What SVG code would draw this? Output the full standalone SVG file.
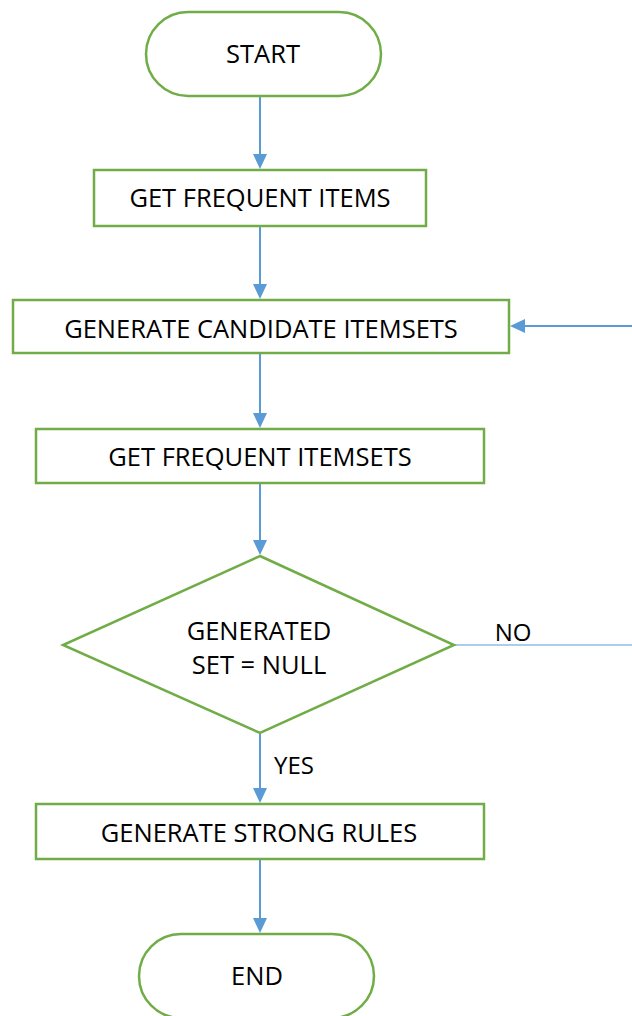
<svg xmlns="http://www.w3.org/2000/svg" width="632" height="1016" viewBox="0 0 632 1016">
<style>
.n{fill:#fff;stroke:#70AD47;stroke-width:2.5}
.t{font-family:"Open Sans","Liberation Sans",sans-serif;font-size:25.5px;fill:#000;text-anchor:middle}
.l{font-family:"Open Sans","Liberation Sans",sans-serif;font-size:24px;fill:#000;text-anchor:middle}
.c{stroke:#5B9BD5;stroke-width:2;fill:none}
.a{fill:#5B9BD5}
</style>
<g id="connectors">
<line class="c" x1="260" y1="97" x2="260" y2="158"/>
<path class="a" d="M253,154 L267,154 L260,169 z"/>
<line class="c" x1="260" y1="227" x2="260" y2="288"/>
<path class="a" d="M253,284 L267,284 L260,299 z"/>
<line class="c" x1="632" y1="326" x2="522" y2="326"/>
<path class="a" d="M525,319 L525,333 L510,326 z"/>
<line class="c" x1="260" y1="354" x2="260" y2="417"/>
<path class="a" d="M253,413 L267,413 L260,428 z"/>
<line class="c" x1="260" y1="484" x2="260" y2="544"/>
<path class="a" d="M253,540 L267,540 L260,555 z"/>
<line stroke="#5B9BD5" stroke-width="1.2" x1="454" y1="645" x2="632" y2="645"/>
<line class="c" x1="260" y1="734" x2="260" y2="792"/>
<path class="a" d="M253,788 L267,788 L260,803 z"/>
<line class="c" x1="260" y1="860" x2="260" y2="922"/>
<path class="a" d="M253,918 L267,918 L260,933 z"/>
<text class="l" x="513" y="641">NO</text>
<text class="l" x="294" y="774">YES</text>
</g>
<g id="start">
<rect class="n" x="146" y="12" width="235" height="84" rx="42"/>
<text class="t" x="263" y="63">START</text>
</g>
<g id="getFrequentItems">
<rect class="n" x="94" y="170" width="332" height="56"/>
<text class="t" x="260" y="207">GET FREQUENT ITEMS</text>
</g>
<g id="generateCandidate">
<rect class="n" x="13" y="300" width="496" height="53"/>
<text class="t" x="261" y="338">GENERATE CANDIDATE ITEMSETS</text>
</g>
<g id="getFrequentItemsets">
<rect class="n" x="36" y="429" width="448" height="54"/>
<text class="t" x="260" y="466">GET FREQUENT ITEMSETS</text>
</g>
<g id="decision">
<polygon class="n" points="260,556 454,645 260,733 63,645"/>
<text class="t" x="259" y="640">GENERATED</text>
<text class="t" x="259" y="674">SET = NULL</text>
</g>
<g id="generateStrongRules">
<rect class="n" x="36" y="804" width="448" height="55"/>
<text class="t" x="259" y="842">GENERATE STRONG RULES</text>
</g>
<g id="end">
<rect class="n" x="139" y="934" width="235" height="84" rx="42"/>
<text class="t" x="257" y="985">END</text>
</g>
</svg>
